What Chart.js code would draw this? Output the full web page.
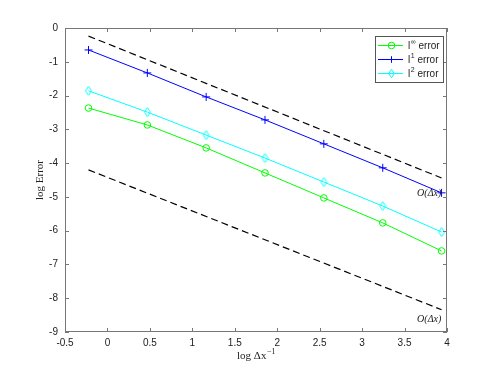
<!DOCTYPE html>
<html>
<head>
<meta charset="utf-8">
<script src="https://cdn.jsdelivr.net/npm/chart.js@4/dist/chart.umd.min.js"></script>
<style>
  html, body { margin: 0; padding: 0; background: #fff; }
  #wrap { width: 498px; height: 374px; }
</style>
</head>
<body>
<div id="wrap"><canvas id="chart" width="498" height="374"></canvas></div>
<script>
// log of inverse mesh size
const logInvDx = [-0.223, 0.470, 1.163, 1.856, 2.549, 3.243, 3.936];
const errInf = [-2.37, -2.87, -3.55, -4.29, -5.03, -5.77, -6.60];
const errL1 = [-0.65, -1.33, -2.04, -2.72, -3.43, -4.14, -4.88];
const errL2 = [-1.86, -2.49, -3.17, -3.85, -4.56, -5.27, -6.04];
// reference slope lines O(dx)
const refX = [-0.223, 3.936];
const refUpper = [-0.24, -4.44];
const refLower = [-4.20, -8.34];
const xTicks = [-0.5, 0, 0.5, 1, 1.5, 2, 2.5, 3, 3.5, 4];
const yTicks = [0, -1, -2, -3, -4, -5, -6, -7, -8, -9];
const refLabelPos = [[3.79, -4.91], [3.79, -8.64]];

const pts = (xs, ys) => xs.map((x, i) => ({ x: x, y: ys[i] }));

const axisColor = '#777';
const tickFont = { family: 'Liberation Sans, Arial, sans-serif', size: 10 };
const serif = '"Liberation Serif", "DejaVu Serif", serif';

// box, inward ticks, labels, legend
const matlabAxes = {
  id: 'matlabAxes',
  afterDatasetsDraw(chart) {
    const ctx = chart.ctx;
    const a = chart.chartArea;
    const xs = chart.scales.x, ys = chart.scales.y;
    ctx.save();
    ctx.strokeStyle = axisColor;
    ctx.lineWidth = 1;
    ctx.strokeRect(a.left + 0.5, a.top + 0.5, a.right - a.left - 1, a.bottom - a.top - 1);
    ctx.beginPath();
    xTicks.forEach(v => {
      const px = Math.round(xs.getPixelForValue(v)) + 0.5;
      ctx.moveTo(px, a.bottom); ctx.lineTo(px, a.bottom - 4);
      ctx.moveTo(px, a.top); ctx.lineTo(px, a.top + 4);
    });
    yTicks.forEach(v => {
      const py = Math.round(ys.getPixelForValue(v)) + 0.5;
      ctx.moveTo(a.left, py); ctx.lineTo(a.left + 4, py);
      ctx.moveTo(a.right, py); ctx.lineTo(a.right - 4, py);
    });
    ctx.stroke();

    // axis titles
    ctx.fillStyle = '#222';
    ctx.textBaseline = 'middle';
    ctx.font = '11px ' + serif;
    const base = 'log Δx';
    const bw = ctx.measureText(base).width;
    ctx.font = '8px ' + serif;
    const sw = ctx.measureText('−1').width;
    let tx = (a.left + a.right) / 2 - (bw + sw) / 2;
    ctx.textAlign = 'left';
    ctx.font = '11px ' + serif;
    ctx.fillText(base, tx, 356);
    ctx.font = '8px ' + serif;
    ctx.fillText('−1', tx + bw + 0.5, 352);

    ctx.save();
    ctx.translate(40, (a.top + a.bottom) / 2);
    ctx.rotate(-Math.PI / 2);
    ctx.textAlign = 'center';
    ctx.font = '11px ' + serif;
    ctx.fillText('log Error', 0, 0);
    ctx.restore();

    // O(dx) labels
    ctx.font = 'italic 10px ' + serif;
    ctx.textAlign = 'center';
    refLabelPos.forEach(p => {
      ctx.fillText('O(Δx)', xs.getPixelForValue(p[0]), ys.getPixelForValue(p[1]));
    });

    // legend
    const lx = 375, ly = 36, lw = 68, lh = 46;
    ctx.fillStyle = '#fff';
    ctx.fillRect(lx, ly, lw, lh);
    ctx.strokeStyle = '#555';
    ctx.strokeRect(lx + 0.5, ly + 0.5, lw, lh);
    const items = [
      { ds: 0, base: 'l', sup: '∞', rest: ' error' },
      { ds: 1, base: 'l', sup: '1', rest: ' error' },
      { ds: 2, base: 'l', sup: '2', rest: ' error' }
    ];
    items.forEach((it, i) => {
      const d = chart.data.datasets[it.ds];
      const y = ly + 9 + i * 14;
      ctx.strokeStyle = d.borderColor;
      ctx.lineWidth = 1;
      ctx.beginPath();
      ctx.moveTo(lx + 3, y + 0.5); ctx.lineTo(lx + 28, y + 0.5);
      ctx.stroke();
      drawMarker(ctx, d.pointStyle, lx + 16.5, y + 0.5, 3.3, d.borderColor);
      ctx.fillStyle = '#222';
      ctx.textAlign = 'left';
      ctx.textBaseline = 'middle';
      ctx.font = '10px "Liberation Sans", Arial, sans-serif';
      let x = lx + 33;
      ctx.fillText(it.base, x, y + 1);
      x += ctx.measureText(it.base).width + 0.5;
      ctx.font = '7px "Liberation Sans", Arial, sans-serif';
      ctx.fillText(it.sup, x, y - 3);
      x += ctx.measureText(it.sup).width;
      ctx.font = '10px "Liberation Sans", Arial, sans-serif';
      ctx.fillText(it.rest, x, y + 1);
    });
    ctx.restore();
  }
};

function drawMarker(ctx, style, x, y, r, color) {
  ctx.strokeStyle = color;
  ctx.beginPath();
  if (style === 'circle') {
    ctx.arc(x, y, r, 0, Math.PI * 2);
  } else if (style === 'cross') {
    ctx.moveTo(x - r, y); ctx.lineTo(x + r, y);
    ctx.moveTo(x, y - r); ctx.lineTo(x, y + r);
  } else {
    ctx.moveTo(x, y - r - 1); ctx.lineTo(x + r - 0.5, y);
    ctx.lineTo(x, y + r + 1); ctx.lineTo(x - r + 0.5, y); ctx.closePath();
  }
  ctx.stroke();
}

const diamond = (() => {
  const c = document.createElement('canvas');
  c.width = 11; c.height = 13;
  const g = c.getContext('2d');
  g.lineWidth = 1;
  drawMarker(g, 'diamond', 5.5, 6.5, 3.5, '#00ffff');
  return c;
})();

const fmt = v => String(Math.round(v * 10) / 10);

new Chart(document.getElementById('chart').getContext('2d'), {
  type: 'line',
  data: {
    datasets: [
      {
        label: 'l∞ error', data: pts(logInvDx, errInf),
        borderColor: '#00ff00', backgroundColor: 'transparent', borderWidth: 1,
        pointStyle: 'circle', pointRadius: 3.3, pointBorderWidth: 1, pointBackgroundColor: 'transparent'
      },
      {
        label: 'l¹ error', data: pts(logInvDx, errL1),
        borderColor: '#0000ff', backgroundColor: 'transparent', borderWidth: 1,
        pointStyle: 'cross', pointRadius: 4, pointBorderWidth: 1
      },
      {
        label: 'l² error', data: pts(logInvDx, errL2),
        borderColor: '#00ffff', backgroundColor: 'transparent', borderWidth: 1,
        pointStyle: diamond, pointRadius: 4, pointBorderWidth: 1
      },
      {
        label: 'ref1', data: pts(refX, refUpper),
        borderColor: '#000', borderWidth: 1.2, borderDash: [7, 4], pointRadius: 0
      },
      {
        label: 'ref2', data: pts(refX, refLower),
        borderColor: '#000', borderWidth: 1.2, borderDash: [7, 4], pointRadius: 0
      }
    ]
  },
  options: {
    responsive: false,
    animation: false,
    events: [],
    layout: { padding: { top: 28, right: 51, left: 0, bottom: 0 } },
    plugins: { legend: { display: false }, tooltip: { enabled: false } },
    scales: {
      x: {
        type: 'linear', min: -0.5, max: 4,
        afterFit: s => { s.height = 42; },
        afterBuildTicks: s => { s.ticks = xTicks.map(v => ({ value: v })); },
        grid: { display: false, drawTicks: false },
        border: { display: false },
        ticks: { font: tickFont, color: '#222', padding: 5, maxRotation: 0, callback: fmt }
      },
      y: {
        type: 'linear', min: -9, max: 0,
        afterFit: s => { s.width = 65; },
        afterBuildTicks: s => { s.ticks = yTicks.map(v => ({ value: v })); },
        grid: { display: false, drawTicks: false },
        border: { display: false },
        ticks: { font: tickFont, color: '#222', padding: 7, callback: fmt }
      }
    }
  },
  plugins: [matlabAxes]
});
</script>
</body>
</html>
